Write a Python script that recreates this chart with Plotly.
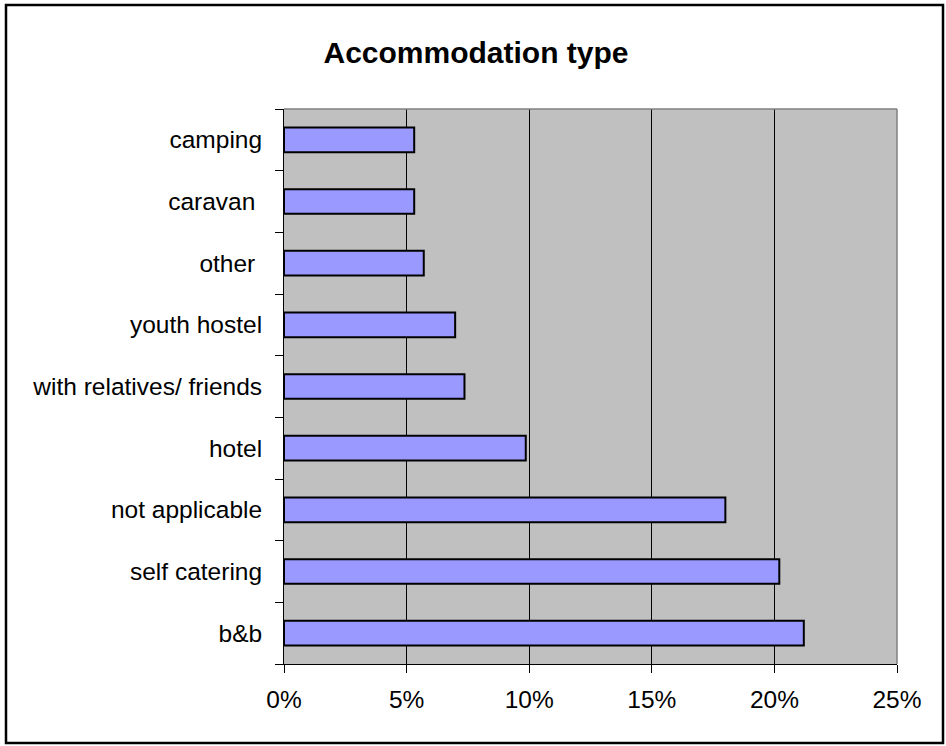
"""Accommodation type: horizontal bar chart of shares, Excel-style."""

import plotly.graph_objects as go

categories = [
    "b&b",
    "self catering",
    "not applicable",
    "hotel",
    "with relatives/ friends",
    "youth hostel",
    "other ",
    "caravan ",
    "camping",
]
shares = [0.212, 0.202, 0.180, 0.0986, 0.0736, 0.0698, 0.0570, 0.0531, 0.0531]
x_ticks = [0, 0.05, 0.10, 0.15, 0.20, 0.25]
x_labels = ["0%", "5%", "10%", "15%", "20%", "25%"]

W, H = 946, 746
L, R, T, B = 284, 49, 109, 82
pw, ph = W - L - R, H - T - B


def px_to_paper(x, y):
    return (x - L) / pw, (H - B - y) / ph


fig = go.Figure(
    go.Bar(
        x=shares,
        y=categories,
        orientation="h",
        marker=dict(color="#9999FF", line=dict(color="black", width=2)),
        hoverinfo="skip",
    )
)

font = "Arial, 'Liberation Sans', sans-serif"

fig.update_layout(
    width=W,
    height=H,
    margin=dict(l=L, r=R, t=T, b=B),
    paper_bgcolor="white",
    plot_bgcolor="#C0C0C0",
    bargap=0.6,
    showlegend=False,
    font=dict(family=font, color="black", size=24.5),
    title=dict(
        text="<b>Accommodation type</b>",
        x=476 / W,
        xanchor="center",
        y=1 - 52 / H,
        yanchor="middle",
        font=dict(family=font, size=30, color="black"),
    ),
)

fig.update_xaxes(
    range=[0, 0.25],
    tickvals=x_ticks,
    ticktext=x_labels,
    showgrid=True,
    gridcolor="black",
    gridwidth=1,
    zeroline=False,
    showline=True,
    linecolor="black",
    linewidth=1,
    ticks="outside",
    ticklen=8,
    tickcolor="black",
    ticklabelstandoff=6,
    tickfont=dict(size=24.5),
    fixedrange=True,
)

fig.update_yaxes(
    categoryorder="array",
    categoryarray=categories,
    showgrid=False,
    zeroline=False,
    showline=True,
    linecolor="black",
    linewidth=1,
    ticks="outside",
    tickson="boundaries",
    ticklen=8,
    tickcolor="black",
    ticklabelstandoff=16,
    tickfont=dict(size=24.5),
    fixedrange=True,
)

# gray top and right edges of the plot area
fig.add_shape(type="line", xref="paper", yref="paper", x0=0, x1=1, y0=1, y1=1,
              line=dict(color="#808080", width=1.5))
fig.add_shape(type="line", xref="paper", yref="paper", x0=1, x1=1, y0=0, y1=1,
              line=dict(color="#808080", width=1.5))

# outer chart border
bx0, by1 = px_to_paper(6, 5)
bx1, by0 = px_to_paper(943, 743)
fig.add_shape(type="rect", xref="paper", yref="paper",
              x0=bx0, x1=bx1, y0=by0, y1=by1,
              line=dict(color="black", width=2.5), layer="above")

# drop the default page margin so the chart sits at the window origin
fig.write_html(
    "out.html",
    config={"displayModeBar": False},
    post_script="document.body.style.margin = '0';",
)
